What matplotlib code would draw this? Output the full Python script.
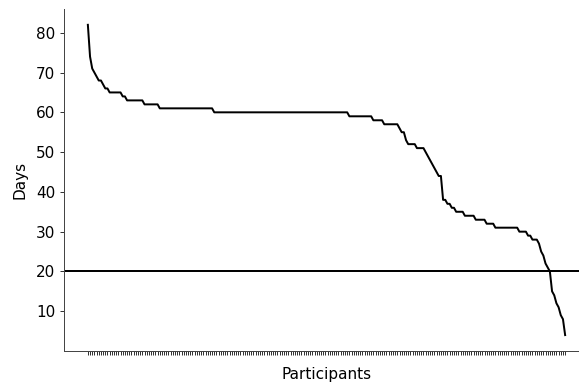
import matplotlib
matplotlib.use("Agg")
import matplotlib.pyplot as plt

# Days per participant (sorted descending)
days = [
    82, 74, 71, 70, 69, 68, 68, 67, 66, 66,
    65, 65, 65, 65, 65, 65, 64, 64,
    63, 63, 63, 63, 63, 63, 63, 63,
    62, 62, 62, 62, 62, 62, 62,
    61, 61, 61, 61, 61, 61, 61, 61, 61, 61,
    61, 61, 61, 61, 61, 61, 61, 61, 61, 61,
    61, 61, 61, 61, 61,
    60, 60, 60, 60, 60, 60, 60, 60, 60, 60,
    60, 60, 60, 60, 60, 60, 60, 60, 60, 60,
    60, 60, 60, 60, 60, 60, 60, 60, 60, 60,
    60, 60, 60, 60, 60, 60, 60, 60, 60, 60,
    60, 60, 60, 60, 60, 60, 60, 60, 60, 60,
    60, 60, 60, 60, 60, 60, 60, 60, 60, 60,
    60, 60,
    59, 59, 59, 59, 59, 59, 59, 59, 59, 59, 59,
    58, 58, 58, 58, 58,
    57, 57, 57, 57, 57, 57, 57,
    56, 55, 55, 53,
    52, 52, 52, 52,
    51, 51, 51, 51,
    50, 49, 48, 47, 46, 45, 44, 44,
    38, 38, 37, 37, 36, 36,
    35, 35, 35, 35,
    34, 34, 34, 34, 34,
    33, 33, 33, 33, 33,
    32, 32, 32, 32,
    31, 31, 31, 31, 31, 31, 31, 31, 31, 31, 31,
    30, 30, 30, 30,
    29, 29, 28, 28, 28, 27, 25, 24, 22, 21, 20,
    15, 14, 12, 11, 9, 8, 4,
]
participants = list(range(len(days)))
threshold = 20
y_ticks = [10, 20, 30, 40, 50, 60, 70, 80]

DPI = 89
plt.rcParams["font.size"] = 12.3
fig = plt.figure(figsize=(579 / DPI, 385 / DPI), dpi=DPI)
ax = fig.add_axes([64 / 579, 34.4 / 385, 525 / 579, 341.3 / 385])

ax.plot(participants, days, color="black", linewidth=1.6)
ax.axhline(threshold, color="black", linewidth=1.6)

ax.set_xticks(participants)
ax.set_xticklabels([""] * len(participants))
ax.set_yticks(y_ticks)
ax.tick_params(axis="both", length=3.6, width=0.8, color="#333333")
ax.set_xlabel("Participants", labelpad=6)
ax.set_ylabel("Days", labelpad=7)
for s in ("left", "bottom"):
    ax.spines[s].set_color("#444444")
ax.spines["top"].set_visible(False)
ax.spines["right"].set_visible(False)

fig.savefig("out.png", dpi=DPI)
